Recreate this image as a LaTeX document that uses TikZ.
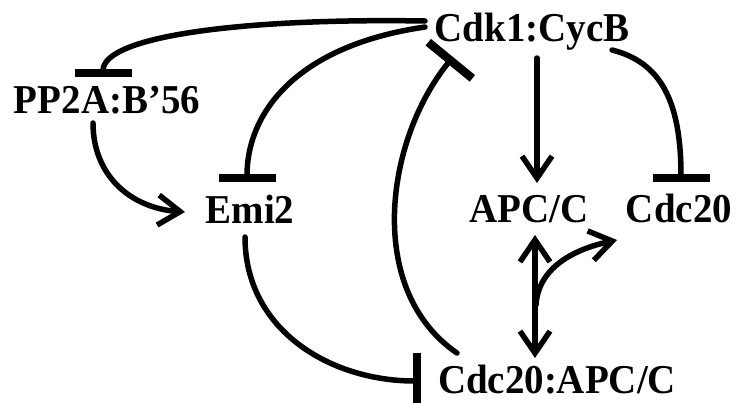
\documentclass[tikz,border=0pt]{standalone}
\usepackage{fontspec}
\setmainfont{Liberation Serif}
\usepackage{graphicx}
\usetikzlibrary{arrows.meta,calc}
\begin{document}
\begin{tikzpicture}[x=1pt,y=-1pt,
  lbl/.style={anchor=base,inner sep=0pt,text depth=0pt,font=\fontsize{41}{41}\selectfont\bfseries},
  conn/.style={line width=5.5pt,line cap=round},
  act/.style={conn,-{Straight Barb[length=22pt,width=30pt,line width=5.5pt]}},
  dact/.style={conn,{Straight Barb[length=22pt,width=30pt,line width=5.5pt]}-{Straight Barb[length=22pt,width=30pt,line width=5.5pt]}},
  inh/.style={conn,-{Bar[width=57pt,line width=8.5pt]}}]
\useasboundingbox (0,0) rectangle (739,402);
\node[lbl] (cdk)  at (532,41)  {\scalebox{0.95}[1]{Cdk1:CycB}};
\node[lbl] (pp2a) at (107,113) {\scalebox{0.95}[1]{PP2A:B’56}};
\node[lbl] (emi)  at (250,223) {\scalebox{0.95}[1]{Emi2}};
\node[lbl] (apc)  at (529,222) {\scalebox{0.95}[1]{APC/C}};
\node[lbl] (cdc)  at (679,222) {\scalebox{0.95}[1]{Cdc20}};
\node[lbl] (cap)  at (557,393) {\scalebox{0.95}[1]{Cdc20:APC/C}};
% Cdk1 -| PP2A
\draw[inh] ([shift={(-107,-20)}]cdk.base) .. controls (250,18) and (103,35) .. ([shift={(-4,-36)}]pp2a.base);
% Cdk1 -| Emi2
\draw[inh] ([shift={(-107,-14)}]cdk.base) .. controls (300,45) and (247,110) .. ([shift={(-3,-41)}]emi.base);
% PP2A -> Emi2
\draw[act] ([shift={(-14,10)}]pp2a.base) .. controls (93,175) and (130,208) .. ([shift={(-65,-11)}]emi.base);
% Cdk1 -> APC/C
\draw[act] ([shift={(5,17)}]cdk.base) -- ([shift={(8,-39)}]apc.base);
% Cdk1 -| Cdc20
\draw[inh] ([shift={(80,9)}]cdk.base) .. controls (660,62) and (681,100) .. ([shift={(2,-40)}]cdc.base);
% Cdc20:APC/C -| Cdk1
\draw[inh] ([shift={(-100,-40)}]cap.base) .. controls (365,290) and (385,140) .. ([shift={(-79,16)}]cdk.base);
% Emi2 -| Cdc20:APC/C
\draw[inh] ([shift={(-5,14)}]emi.base) .. controls (245,330) and (330,381) .. ([shift={(-136,-12)}]cap.base);
% APC/C <-> Cdc20:APC/C
\draw[dact] ([shift={(6,13)}]apc.base) -- ([shift={(-22,-35)}]cap.base);
% branch -> Cdc20
\coordinate (br) at (536,305);
\draw[act] (br) .. controls (538,270) and (570,250) .. ([shift={(-62,18)}]cdc.base);
\end{tikzpicture}
\end{document}
